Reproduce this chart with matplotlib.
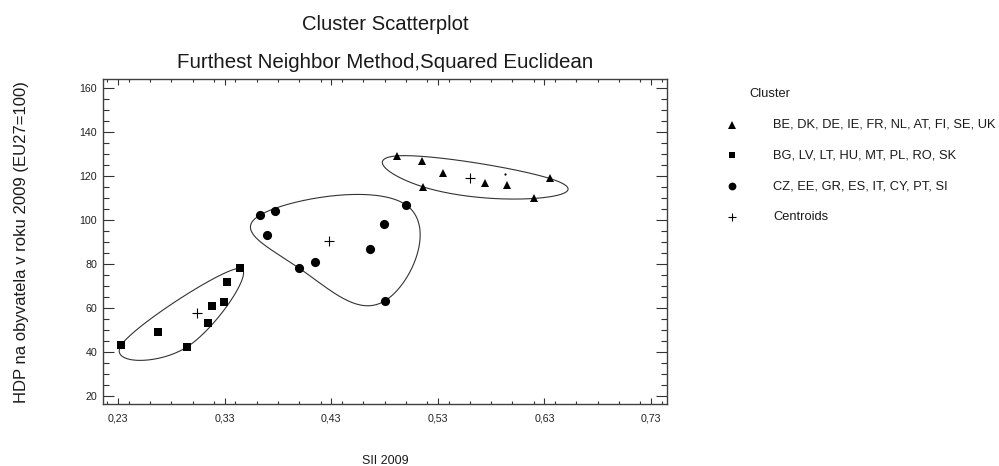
import numpy as np
import matplotlib
matplotlib.use("Agg")
import matplotlib.pyplot as plt
from matplotlib.lines import Line2D
from matplotlib.ticker import MultipleLocator, FixedLocator, FixedFormatter

plt.rcParams['font.family'] = ['Liberation Sans', 'DejaVu Sans']

# SII 2009 (x) and GDP per capita 2009, EU27=100 (y) for each cluster
tri_x = [0.492, 0.515, 0.535, 0.516, 0.574, 0.595, 0.635, 0.620]
tri_y = [129.2, 126.9, 121.2, 115.1, 116.9, 115.9, 118.9, 109.8]

sq_x = [0.233, 0.267, 0.295, 0.314, 0.318, 0.329, 0.332, 0.344]
sq_y = [43.1, 48.8, 42.3, 52.9, 60.9, 62.8, 71.9, 78.0]

circ_x = [0.363, 0.377, 0.370, 0.415, 0.400, 0.466, 0.479, 0.500, 0.480]
circ_y = [102.2, 103.9, 93.0, 80.8, 78.0, 86.9, 98.1, 106.9, 63.1]

dot_x = [0.593]
dot_y = [120.9]

cluster_labels = ["BE, DK, DE, IE, FR, NL, AT, FI, SE, UK",
                  "BG, LV, LT, HU, MT, PL, RO, SK",
                  "CZ, EE, GR, ES, IT, CY, PT, SI",
                  "Centroids"]

x_ticks = [0.23, 0.33, 0.43, 0.53, 0.63, 0.73]
x_tick_labels = ["0,23", "0,33", "0,43", "0,53", "0,63", "0,73"]
y_ticks = [20, 40, 60, 80, 100, 120, 140, 160]


def convex_hull(pts):
    pts = sorted(set(map(tuple, pts)))

    def cross(o, a, b):
        return (a[0] - o[0]) * (b[1] - o[1]) - (a[1] - o[1]) * (b[0] - o[0])

    lower, upper = [], []
    for p in pts:
        while len(lower) >= 2 and cross(lower[-2], lower[-1], p) <= 0:
            lower.pop()
        lower.append(p)
    for p in reversed(pts):
        while len(upper) >= 2 and cross(upper[-2], upper[-1], p) <= 0:
            upper.pop()
        upper.append(p)
    return np.array(lower[:-1] + upper[:-1], dtype=float)


def prune_flat(hull, min_turn_deg=28.0):
    """Drop hull corners that barely turn, so the outline stays smooth."""
    pts = list(hull)
    while len(pts) > 3:
        turns = []
        n = len(pts)
        for i in range(n):
            v1 = pts[i] - pts[i - 1]
            v2 = pts[(i + 1) % n] - pts[i]
            a = np.degrees(np.arctan2(v1[0] * v2[1] - v1[1] * v2[0],
                                      v1[0] * v2[0] + v1[1] * v2[1]))
            turns.append(abs(a))
        j = int(np.argmin(turns))
        if turns[j] >= min_turn_deg:
            break
        pts.pop(j)
    return np.array(pts)


def closed_cardinal(pts, tension=0.75, n=80):
    m = len(pts)
    out = []
    t = np.linspace(0, 1, n, endpoint=False)[:, None]
    h00 = 2 * t**3 - 3 * t**2 + 1
    h10 = t**3 - 2 * t**2 + t
    h01 = -2 * t**3 + 3 * t**2
    h11 = t**3 - t**2
    for i in range(m):
        p0, p1 = pts[i], pts[(i + 1) % m]
        m0 = tension * (pts[(i + 1) % m] - pts[i - 1])
        m1 = tension * (pts[(i + 2) % m] - pts[i])
        out.append(h00 * p0 + h10 * m0 + h01 * p1 + h11 * m1)
    out = np.vstack(out)
    return np.vstack([out, out[:1]])


fig = plt.figure(figsize=(9.99, 4.66), dpi=100)
ax = fig.add_axes([0.1028, 0.1330, 0.5649, 0.6975])
ax.set_xlim(0.2155, 0.745)
ax.set_ylim(16.2, 164.2)

ink = '#1a1a1a'
clusters = [(tri_x, tri_y, '^', 6.2), (sq_x, sq_y, 's', 5.8), (circ_x, circ_y, 'o', 6.6)]

for xs, ys, mk, ms in clusters:
    disp = ax.transData.transform(np.column_stack([xs, ys]))
    outline = closed_cardinal(prune_flat(convex_hull(disp)))
    curve = ax.transData.inverted().transform(outline)
    ax.plot(curve[:, 0], curve[:, 1], color='#333333', lw=0.8, zorder=2)
    ax.plot(xs, ys, linestyle='none', marker=mk, ms=ms, color='black',
            markeredgewidth=0, zorder=3)
    ax.plot([np.mean(xs)], [np.mean(ys)], linestyle='none', marker='+', ms=6.5,
            color='black', markeredgewidth=0.8, zorder=3)

ax.plot(dot_x, dot_y, linestyle='none', marker='o', ms=1.6, color='black',
        markeredgewidth=0, zorder=3)

ax.xaxis.set_major_locator(FixedLocator(x_ticks))
ax.xaxis.set_major_formatter(FixedFormatter(x_tick_labels))
ax.xaxis.set_minor_locator(MultipleLocator(0.02))
ax.yaxis.set_major_locator(FixedLocator(y_ticks))
ax.yaxis.set_minor_locator(MultipleLocator(5))

ax.tick_params(which='both', direction='in', top=True, right=True,
               color='#333333', width=0.8, labelsize=7.7, labelcolor='#222222')
ax.tick_params(axis='x', which='major', length=4.4, pad=6.5)
ax.tick_params(axis='x', which='minor', length=2.2)
ax.tick_params(axis='y', which='major', length=8.0, pad=4)
ax.tick_params(axis='y', which='minor', length=4.3)

for sp in ax.spines.values():
    sp.set_color('#404040')
    sp.set_linewidth(1.0)

cx = 0.1028 + 0.5649 / 2
fig.text(cx, 1 - 25 / 466, "Cluster Scatterplot", ha='center', va='center',
         fontsize=14.6, color=ink)
fig.text(cx, 1 - 62 / 466, "Furthest Neighbor Method,Squared Euclidean",
         ha='center', va='center', fontsize=14.8, color=ink)
fig.text(22 / 999, 1 - 242 / 466, "HDP na obyvatela v roku 2009 (EU27=100)",
         rotation=90, ha='center', va='center', fontsize=12, color=ink)
fig.text(cx, 1 - 461 / 466, "SII 2009", ha='center', va='center',
         fontsize=9, color=ink)

# legend block
fig.text(749 / 999, 1 - 94 / 466, "Cluster", ha='left', va='center',
         fontsize=9.3, color=ink)
legend_markers = [('^', 5.4, 0), ('s', 5.0, 0), ('o', 5.6, 0), ('+', 6.0, 0.8)]
for i, ((mk, ms, mew), label) in enumerate(zip(legend_markers, cluster_labels)):
    yy = 1 - (124.5 + i * 30.8) / 466
    fig.add_artist(Line2D([732 / 999], [yy], transform=fig.transFigure,
                          marker=mk, ms=ms, color='black', linestyle='none',
                          markeredgewidth=mew))
    fig.text(773 / 999, yy, label, ha='left', va='center', fontsize=9.3,
             color=ink)

fig.savefig("out.png", dpi=100)
